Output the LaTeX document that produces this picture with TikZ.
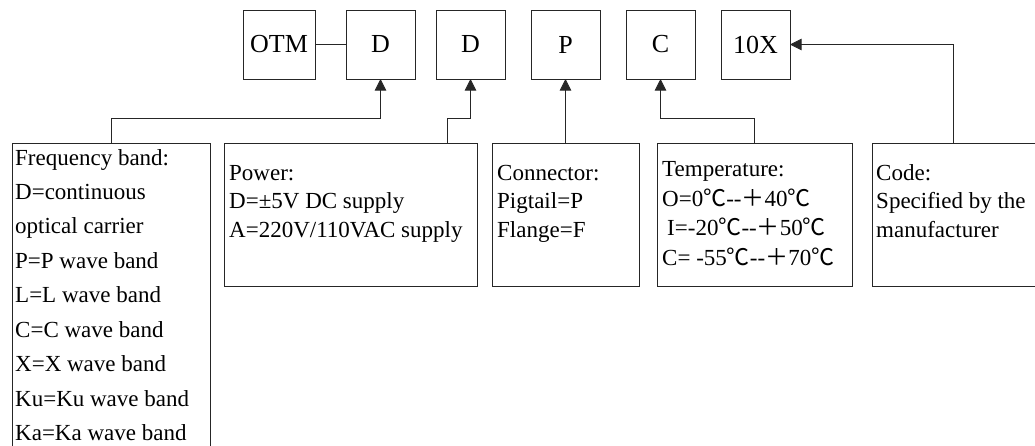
\documentclass[tikz,border=0pt]{standalone}
\usepackage{fontspec}
\setmainfont{Liberation Serif}
\newfontfamily\cjk{Noto Sans CJK SC}
\usetikzlibrary{arrows.meta}
\newcommand{\degC}{{\cjk ℃}}
\newcommand{\fplus}{{\cjk ＋}}
\begin{document}
\begin{tikzpicture}[x=1pt,y=-1pt,
  line/.style={draw=black!85, line width=0.8pt},
  codebox/.style={line, rectangle, inner sep=0pt, outer sep=0pt,
    minimum width=69pt, minimum height=69pt, font=\fontsize{26}{30}\selectfont},
  infobox/.style={line, rectangle, inner sep=0pt, outer sep=0pt},
  txt/.style={anchor=base west, inner sep=0pt, font=\fontsize{23}{28}\selectfont},
  arr/.style={line, -{Triangle[length=11.5pt,width=11.5pt]}}]
\useasboundingbox (0,0) rectangle (1035,445);
\clip (0,0) rectangle (1035,445);

% model code boxes
\node[codebox, minimum width=72pt] (otm) at (279,44.5) {OTM};
\node[codebox] (d1)  at (380.5,44.5) {D};
\node[codebox] (d2)  at (470.5,44.5) {D};
\node[codebox] (p)   at (565.5,44.5) {P};
\node[codebox] (c)   at (660.5,44.5) {C};
\node[codebox] (x10) at (755.5,44.5) {10X};

% explanation boxes
\node[infobox, minimum width=198pt, minimum height=317pt] (fb) at (111,301.5) {};
\node[infobox, minimum width=253pt, minimum height=143pt] (pw) at (350.5,214.5) {};
\node[infobox, minimum width=147pt, minimum height=143pt] (cn) at (565.5,214.5) {};
\node[infobox, minimum width=195pt, minimum height=143pt] (tp) at (754.5,214.5) {};
\node[infobox, minimum width=173pt, minimum height=143pt] (cd) at (958.5,214.5) {};

% texts
\foreach \t [count=\i from 0] in {Frequency band:, D=continuous, optical carrier,
    P=P wave band, L=L wave band, C=C wave band, X=X wave band,
    Ku=Ku wave band, Ka=Ka wave band}
  \node[txt] (fl\i) at (15,165+34.45*\i) {\t};

\node[txt] (pw1) at (229,180) {Power:};
\node[txt] (pw2) at (229,208.5) {D=±5V DC supply};
\node[txt] (pw3) at (229,237) {A=220V/110VAC supply};

\node[txt] (cn1) at (497,180) {Connector:};
\node[txt] (cn2) at (497,208.5) {Pigtail=P};
\node[txt] (cn3) at (497,237) {Flange=F};

\node[txt] (tp1) at (662,176) {Temperature:};
\node[txt] (tp2) at (662,206) {O=0\degC-{}-\fplus40\degC};
\node[txt] (tp3) at (667,235.5) {I=-20\degC-{}-\fplus50\degC};
\node[txt] (tp4) at (662,265) {C= -55\degC-{}-\fplus70\degC};

\node[txt] (cd1) at (876,180) {Code:};
\node[txt] (cd2) at (876,208.5) {Specified by the};
\node[txt] (cd3) at (876,237) {manufacturer};

% connectors
\coordinate (pwtap) at (447,143);
\coordinate (cdtap) at (953,143);
\draw[line] (otm.east) -- (d1.west);
\draw[arr] (fb.north) -- ++(0,-25) -| (d1.south);
\draw[arr] (pwtap) -- ++(0,-25) -| (d2.south);
\draw[arr] (cn.north) -- (p.south);
\draw[arr] (tp.north) -- ++(0,-25) -| (c.south);
\draw[arr] (cdtap) |- (x10.east);
\end{tikzpicture}
\end{document}
